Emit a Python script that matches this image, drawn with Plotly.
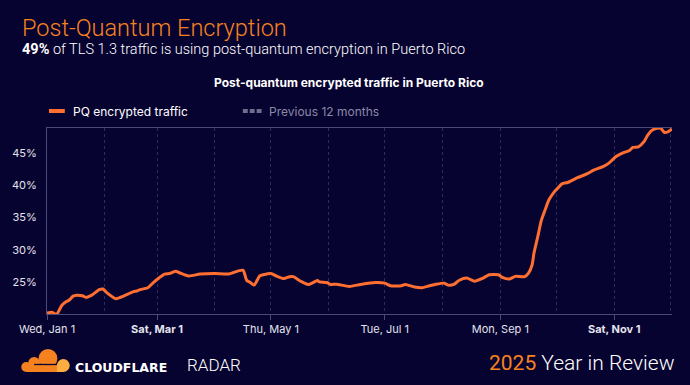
import plotly.graph_objects as go

# ---------------- data ----------------
dates = [
    "2025-01-01", "2025-01-04", "2025-01-06", "2025-01-09", "2025-01-11", "2025-01-13",
    "2025-01-15", "2025-01-17", "2025-01-20", "2025-01-22", "2025-01-25", "2025-01-29",
    "2025-01-31", "2025-02-02", "2025-02-07", "2025-02-11", "2025-02-16", "2025-02-18",
    "2025-02-20", "2025-02-24", "2025-02-27", "2025-03-02", "2025-03-05", "2025-03-08",
    "2025-03-11", "2025-03-13", "2025-03-18", "2025-03-24", "2025-04-01", "2025-04-08",
    "2025-04-16", "2025-04-18", "2025-04-20", "2025-04-22", "2025-04-25", "2025-04-27",
    "2025-05-01", "2025-05-04", "2025-05-08", "2025-05-11", "2025-05-13", "2025-05-17",
    "2025-05-21", "2025-05-26", "2025-05-27", "2025-05-31", "2025-06-02", "2025-06-05",
    "2025-06-12", "2025-06-18", "2025-06-26", "2025-07-01", "2025-07-04", "2025-07-10",
    "2025-07-12", "2025-07-17", "2025-07-21", "2025-07-25", "2025-07-28", "2025-08-02",
    "2025-08-04", "2025-08-07", "2025-08-10", "2025-08-14", "2025-08-18", "2025-08-23",
    "2025-08-26", "2025-08-31", "2025-09-02", "2025-09-06", "2025-09-09", "2025-09-14",
    "2025-09-16", "2025-09-18", "2025-09-19", "2025-09-21", "2025-09-23", "2025-09-25",
    "2025-09-27", "2025-09-30", "2025-10-02", "2025-10-04", "2025-10-07", "2025-10-12",
    "2025-10-18", "2025-10-21", "2025-10-26", "2025-10-29", "2025-11-02", "2025-11-06",
    "2025-11-09", "2025-11-11", "2025-11-14", "2025-11-17", "2025-11-19", "2025-11-21",
    "2025-11-24", "2025-11-26", "2025-11-28", "2025-11-30", "2025-12-02",
]
pq_share = [
    20.3, 20.4, 20.05, 21.5, 22.0, 22.3,
    22.9, 23.05, 22.95, 22.7, 23.05, 23.9,
    24.0, 23.45, 22.5, 22.9, 23.55, 23.7,
    23.9, 24.2, 25.0, 25.7, 26.3, 26.4,
    26.75, 26.5, 26.0, 26.3, 26.4, 26.3,
    26.9, 25.35, 25.0, 24.6, 26.0, 26.2,
    26.4, 26.0, 25.6, 25.9, 25.9, 25.2,
    24.7, 25.3, 25.1, 25.0, 24.7, 24.75,
    24.4, 24.7, 25.0, 24.9, 24.5, 24.5,
    24.7, 24.3, 24.2, 24.5, 24.7, 24.9,
    24.6, 24.7, 25.35, 25.7, 25.2, 25.7,
    26.2, 26.2, 25.8, 25.55, 25.95, 25.9,
    26.4, 27.7, 29.5, 32.0, 34.6, 36.2,
    37.7, 39.0, 39.6, 40.2, 40.4, 41.1,
    41.8, 42.3, 42.85, 43.35, 44.4, 45.0,
    45.3, 45.8, 45.9, 46.7, 47.7, 48.4,
    48.75, 48.75, 48.1, 48.25, 48.65,
]
x_tick_vals = ["2025-01-01", "2025-03-01", "2025-05-01", "2025-07-01", "2025-09-01", "2025-11-01"]
x_tick_text = ["Wed, Jan 1", "<b>Sat, Mar 1</b>", "Thu, May 1", "Tue, Jul 1", "Mon, Sep 1", "<b>Sat, Nov 1</b>"]
y_tick_vals = [25, 30, 35, 40, 45]
y_tick_text = ["25%", "30%", "35%", "40%", "45%"]

# ---------------- style ----------------
BG = "#070330"
ORANGE = "#ff6f32"
CF_ORANGE = "#f6821f"
CF_YELLOW = "#fbad41"
AXIS = "#4c4a78"
GRID = "#2e2b62"
FONT = "Inter"
HFONT = "Roboto"

W, H = 690, 385
L, R, T, B = 40, 18, 128, 71


def px(x):
    return (x - L) / (W - L - R)


def py(y):
    return (H - B - y) / (H - T - B)


fig = go.Figure()
fig.add_trace(go.Scatter(
    x=dates, y=pq_share, mode="lines", name="PQ encrypted traffic",
    line=dict(color=ORANGE, width=3, shape="spline", smoothing=0.6),
    showlegend=False, hoverinfo="skip",
))

fig.update_layout(
    width=W, height=H,
    margin=dict(l=L, r=R, t=T, b=B),
    paper_bgcolor=BG, plot_bgcolor=BG,
    font=dict(family=FONT, color="#e4e4ee", size=11),
    showlegend=False,
)
fig.update_xaxes(
    type="date",
    range=["2025-01-01", "2025-12-02"],
    tickmode="array", tickvals=x_tick_vals, ticktext=x_tick_text,
    showline=True, linecolor=AXIS, linewidth=1, mirror=True,
    ticks="outside", ticklen=5, tickcolor=AXIS,
    showgrid=True, gridcolor=GRID, griddash="dot", gridwidth=1,
    minor=dict(dtick="M1", tick0="2025-01-01", showgrid=True, gridcolor=GRID,
               griddash="dot", gridwidth=1, ticks=""),
    tickfont=dict(size=11, color="#e4e4ee"),
    zeroline=False, fixedrange=True,
)
fig.update_yaxes(
    range=[20.15, 48.8],
    tickmode="array", tickvals=y_tick_vals, ticktext=y_tick_text,
    showline=True, linecolor=AXIS, linewidth=1,
    showgrid=False, ticks="", ticklabelstandoff=7,
    tickfont=dict(size=11, color="#e4e4ee"),
    zeroline=False, fixedrange=True,
)

ann = []
# header texts
ann.append(dict(text="Post-Quantum Encryption", x=px(13), y=py(28), xanchor="left", yanchor="middle",
                font=dict(family=HFONT, size=23.5, color=CF_ORANGE, weight=300)))
ann.append(dict(text="<b>49%</b> of TLS 1.3 traffic is using post-quantum encryption in Puerto Rico",
                x=px(13), y=py(50), xanchor="left", yanchor="middle",
                font=dict(family=HFONT, size=14.5, color="#ffffff", weight=300)))
ann.append(dict(text="<b>Post-quantum encrypted traffic in Puerto Rico</b>", x=px(345), y=py(82),
                xanchor="center", yanchor="middle",
                font=dict(family=FONT, size=12, color="#ffffff")))
# legend
ann.append(dict(text="PQ encrypted traffic", x=px(64), y=py(111), xanchor="left", yanchor="middle",
                font=dict(family=FONT, size=12, color="#ffffff")))
ann.append(dict(text="Previous 12 months", x=px(262), y=py(111), xanchor="left", yanchor="middle",
                font=dict(family=FONT, size=12, color="#8b89a6")))
# footer
ann.append(dict(text="<b>CLOUDFLARE</b>", x=px(66), y=py(367), xanchor="left", yanchor="middle",
                font=dict(family="DejaVu Sans", size=12.5, color="#ffffff")))
ann.append(dict(text="RADAR", x=px(180), y=py(365), xanchor="left", yanchor="middle",
                font=dict(family=HFONT, size=17, color="#ffffff", weight=300)))
ann.append(dict(text="<span style='color:%s;font-weight:400'>2025</span> Year in Review" % CF_ORANGE,
                x=px(677), y=py(363), xanchor="right", yanchor="middle",
                font=dict(family=HFONT, size=21, color="#ffffff", weight=300)))
for a in ann:
    a.update(xref="paper", yref="paper", showarrow=False)
fig.update_layout(annotations=ann)

shapes = []
# legend symbols
shapes.append(dict(type="line", x0=px(42), x1=px(58), y0=py(111), y1=py(111),
                   line=dict(color=ORANGE, width=4)))
for x0 in (238, 245, 252):
    shapes.append(dict(type="rect", x0=px(x0), x1=px(x0 + 5), y0=py(109), y1=py(113),
                       line=dict(width=0), fillcolor="#6f6c8e"))


def circle(cx, cy, r, color):
    return dict(type="circle", x0=px(cx - r), x1=px(cx + r), y0=py(cy + r), y1=py(cy - r),
                line=dict(width=0), fillcolor=color)


def rect(x0, y0, x1, y1, color):
    return dict(type="rect", x0=px(x0), x1=px(x1), y0=py(y1), y1=py(y0),
                line=dict(width=0), fillcolor=color)


# cloudflare logo
shapes += [
    circle(41, 358.5, 9.5, CF_ORANGE),
    circle(27, 363, 6, CF_ORANGE),
    circle(19, 367, 5, CF_ORANGE),
    rect(19, 364, 52, 372, CF_ORANGE),
    circle(56.5, 365.5, 6.5, CF_YELLOW),
    rect(50, 365.5, 56.5, 372, CF_YELLOW),
    dict(type="line", x0=px(27), x1=px(50), y0=py(364.5), y1=py(364.5),
         line=dict(color=BG, width=1.3)),
]
for s in shapes:
    s.update(xref="paper", yref="paper", layer="above")
fig.update_layout(shapes=shapes)

fig.write_html("out.html", config={"displayModeBar": False},
               post_script="document.body.style.margin='0';document.body.style.background='%s';" % BG)
